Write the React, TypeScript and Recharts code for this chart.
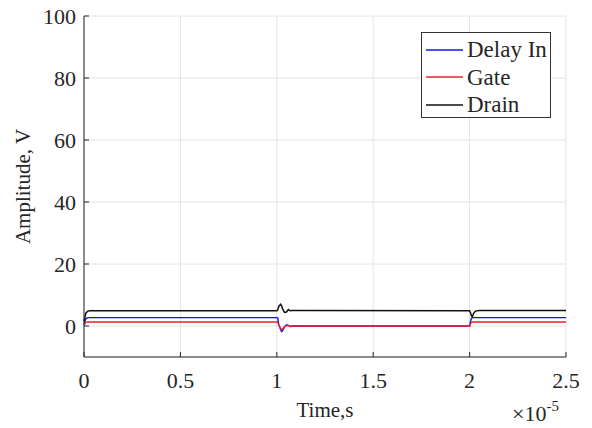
import React from 'react';
import { LineChart, Line, XAxis, YAxis, CartesianGrid, Legend, Label } from 'recharts';

// time in units of 1e-5 s
const time = [0, 0.005, 0.01, 0.02, 0.03, 1.0, 1.005, 1.01, 1.02, 1.025, 1.03, 1.04, 1.05, 1.06, 1.07, 1.08, 1.1, 1.12, 1.15, 2.0, 2.005, 2.01, 2.015, 2.02, 2.03, 2.05, 2.5];
const delayIn = [0.5, 1.5, 2.4, 2.7, 2.7, 2.7, 2.5, 0.5, -1.2, -1.8, -1.5, -0.3, 0.4, 0.2, -0.2, -0.1, 0.1, 0, 0, 0, 1.5, 2.5, 2.7, 2.7, 2.7, 2.7, 2.7];
const gate = [0.3, 0.8, 1.2, 1.3, 1.3, 1.3, 1.2, 0.3, -0.8, -1.2, -1.0, -0.2, 0.2, 0.1, -0.1, 0, 0, 0, 0, 0, 0.8, 1.2, 1.3, 1.3, 1.3, 1.3, 1.3];
const drain = [1.5, 3, 4.2, 4.8, 4.9, 4.9, 5.2, 6.3, 7.0, 6.5, 5.5, 4.4, 4.5, 5.3, 4.9, 5.0, 5.0, 5.0, 5.0, 4.9, 4.2, 3.2, 3.0, 4.0, 4.8, 5.0, 5.0];

const xTicks = [0, 0.5, 1, 1.5, 2, 2.5];
const yTicks = [0, 20, 40, 60, 80, 100];
const seriesNames = ['Delay In', 'Gate', 'Drain'];
const seriesKeys = ['delayIn', 'gate', 'drain'];
const seriesColors = ['#1010ee', '#ee2020', '#111111'];
const seriesWidths = [1.4, 1.4, 1.5];

const data = time.map((t, i) => ({ t, delayIn: delayIn[i], gate: gate[i], drain: drain[i] }));

const FONT = "'Liberation Serif', serif";
const TEXT = '#262626';

function LegendBox() {
  return (
    <div
      style={{
        border: '1px solid #333',
        background: '#fff',
        width: 130,
        height: 86,
        boxSizing: 'border-box',
        fontFamily: FONT,
        fontSize: 23,
        color: TEXT,
        padding: '3px 0 0 4px',
      }}
    >
      {seriesNames.map((n, i) => (
        <div key={n} style={{ display: 'flex', alignItems: 'center', height: 27.5 }}>
          <svg width={37} height={4} style={{ marginRight: 4, display: 'block' }}>
            <line x1={0} y1={2} x2={37} y2={2} stroke={seriesColors[i]} strokeWidth={1.5} />
          </svg>
          <span style={{ lineHeight: '27px', whiteSpace: 'nowrap' }}>{n}</span>
        </div>
      ))}
    </div>
  );
}

export default function App() {
  return (
    <div style={{ position: 'absolute', left: 0, top: 0, width: 592, height: 428, background: '#fff' }}>
      <LineChart width={592} height={428} data={data} margin={{ top: 16, right: 26, bottom: 0, left: 0 }}>
        <CartesianGrid stroke="#e4e4e4" />
        <XAxis
          dataKey="t"
          type="number"
          domain={[0, 2.5]}
          ticks={xTicks}
          height={71}
          tickSize={-5}
          tickMargin={20}
          interval={0}
          axisLine={{ stroke: TEXT }}
          tickLine={{ stroke: TEXT }}
          tick={{ fill: TEXT, fontSize: 22, style: { fontFamily: FONT } }}
        >
          <Label
            value="Time,s"
            position="insideBottom"
            offset={11}
            style={{ fill: TEXT, fontSize: 21, fontFamily: FONT }}
          />
          <Label
            content={(props: any) => {
              const vb = props.viewBox || { x: 84, y: 357, width: 482, height: 71 };
              const x = vb.x + vb.width - 54;
              const y = vb.y + vb.height - 7;
              return (
                <text x={x} y={y} fill={TEXT} fontSize={22} style={{ fontFamily: FONT }}>
                  ×10
                  <tspan dy={-10} fontSize={15}>-5</tspan>
                </text>
              );
            }}
          />
        </XAxis>
        <XAxis
          xAxisId="top"
          orientation="top"
          type="number"
          domain={[0, 2.5]}
          ticks={xTicks}
          height={0}
          tickSize={-5}
          tickFormatter={() => ''}
          axisLine={{ stroke: TEXT }}
          tickLine={{ stroke: TEXT }}
        />
        <YAxis
          type="number"
          domain={[-10, 100]}
          ticks={yTicks}
          width={84}
          tickSize={-5}
          tickMargin={13}
          interval={0}
          axisLine={{ stroke: TEXT }}
          tickLine={{ stroke: TEXT }}
          tick={{ fill: TEXT, fontSize: 22, style: { fontFamily: FONT } }}
        >
          <Label
            content={(props: any) => {
              const vb = props.viewBox || { x: 0, y: 16, width: 84, height: 341 };
              const cx = 30;
              const cy = vb.y + vb.height / 2;
              return (
                <text
                  x={cx}
                  y={cy}
                  transform={`rotate(-90 ${cx} ${cy})`}
                  textAnchor="middle"
                  fill={TEXT}
                  fontSize={21}
                  style={{ fontFamily: FONT }}
                >
                  Amplitude, V
                </text>
              );
            }}
          />
        </YAxis>
        <YAxis
          yAxisId="right"
          orientation="right"
          type="number"
          domain={[-10, 100]}
          ticks={yTicks}
          width={0}
          tickSize={-5}
          tickFormatter={() => ''}
          axisLine={{ stroke: TEXT }}
          tickLine={{ stroke: TEXT }}
        />
        <Legend
          layout="horizontal"
          verticalAlign="middle"
          align="center"
          content={() => <LegendBox />}
          wrapperStyle={{ position: 'absolute', left: 421, top: 32, width: 130, height: 86 }}
        />
        {seriesKeys.map((k, i) => (
          <Line
            key={k}
            dataKey={k}
            name={seriesNames[i]}
            type="linear"
            stroke={seriesColors[i]}
            strokeWidth={seriesWidths[i]}
            dot={false}
            activeDot={false}
            isAnimationActive={false}
          />
        ))}
      </LineChart>
    </div>
  );
}
